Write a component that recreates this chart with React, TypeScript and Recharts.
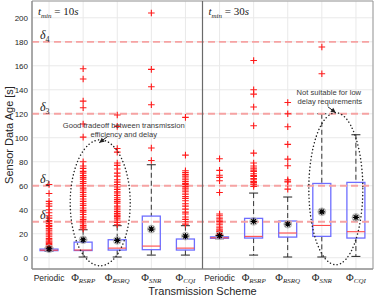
import React from 'react';
import {
  ComposedChart,
  XAxis,
  YAxis,
  CartesianGrid,
  Bar,
  Scatter,
  ReferenceLine,
  ReferenceDot,
  ReferenceArea,
  Label,
} from 'recharts';

// ---------- data ----------
const categories = ['Periodic', 'RSRP', 'RSRQ', 'SNR', 'CQI', 'Periodic', 'RSRP', 'RSRQ', 'SNR', 'CQI'];
const tickMain = ['Periodic', 'Φ', 'Φ', 'Φ', 'Φ', 'Periodic', 'Φ', 'Φ', 'Φ', 'Φ'];
const tickSub = ['', 'RSRP', 'RSRQ', 'SNR', 'CQI', '', 'RSRP', 'RSRQ', 'SNR', 'CQI'];
const yTicks = [0, 20, 40, 60, 80, 100, 120, 140, 160, 180, 200];

const whiskerLow = [5.5, 0.6, 0.6, 2.2, 2.2, 15.8, 2.2, 0.6, 0.6, 1.1];
const q1 = [5.9, 6.0, 6.4, 6.7, 6.4, 16.2, 16.4, 17.2, 17.8, 16.4];
const median = [6.3, 6.4, 8.0, 9.7, 8.0, 16.6, 17.8, 20.6, 26.9, 21.7];
const q3 = [7.2, 13.0, 15.0, 34.7, 15.6, 17.4, 32.8, 30.6, 61.9, 62.8];
const whiskerHigh = [8.0, 23.3, 26.7, 77.5, 26.7, 18.5, 53.9, 50.6, 120, 102.5];
const means = [7.5, 15, 14.4, 23.9, 18, 18.4, 30.3, 28, 38.3, 33.6];

const outlierP10 = [61, 53.5, 47, 45, 43, 40, 37.5, 35, 33, 31, 30, 28.5, 27, 26, 24.5, 23, 21.5, 20, 19, 17.5, 16, 15, 14, 13, 12, 11, 10, 9];
const outlierRSRP10 = [157.5, 149, 130.5, 125, 111.5, 100.5, 80, 76.5, 74.5, 72, 70.5, 68.5, 67, 65.5, 63.5, 62, 60, 58, 56.5, 54.5, 52.5, 51, 49, 47, 45, 43.5, 41.5, 39.5, 38, 36, 34, 32, 30.5, 29, 27, 25.5, 24];
const outlierRSRQ10 = [119, 109.5, 91, 88, 79, 77, 74, 70.5, 68, 65, 63, 61, 59, 57, 55, 54, 52, 50, 48.5, 47, 45.5, 43, 41.5, 40, 38.5, 37, 35.5, 34.5, 33, 31.5, 29.5, 27.5];
const outlierSNR10 = [204, 157, 142.5, 127.5, 91.5, 81];
const outlierCQI10 = [117, 85.5, 72.5, 71, 69.5, 68, 66.5, 65, 63.5, 62, 61, 59.5, 58, 56.5, 55, 53, 51, 49.5, 47.5, 45, 43, 40.5, 38, 36.5, 34, 32, 30, 28];
const outlierP30 = [82.5, 72.8, 68.8, 67, 64.2, 54.4, 36.5, 35, 33, 31.5, 30.3, 29, 27.5, 25.5, 24, 23, 21.8, 20.5, 19.3];
const outlierRSRP30 = [164.4, 140, 136.4, 125.6, 110, 87.2, 78.9, 76.5, 74.7, 73, 71.9, 70, 68.5, 67.8, 66, 65, 63.5, 62.8, 61.5, 60.8, 59.4];
const outlierRSRQ30 = [129.4, 120, 109.2, 94.5, 82.2, 76.7, 65, 63.8, 63.1, 57.2];
const outlierSNR30 = [175.6, 153.3];
const outlierCQI30: number[] = [];

const outliers = [
  outlierP10, outlierRSRP10, outlierRSRQ10, outlierSNR10, outlierCQI10,
  outlierP30, outlierRSRP30, outlierRSRQ30, outlierSNR30, outlierCQI30,
];

const deltaLevels = [30, 60, 120, 180];
const deltaNames = ['1', '2', '3', '4'];
const panelTimes = ['10', '30'];
const panelStart = [-0.5, 4.5];

// ---------- derived tables ----------
const boxData = categories.map((c, i) => ({
  x: i,
  name: c,
  range: [whiskerLow[i], whiskerHigh[i]],
  lo: whiskerLow[i],
  q1: q1[i],
  med: median[i],
  q3: q3[i],
  hi: whiskerHigh[i],
}));
const outlierData = outliers.flatMap((arr, i) => arr.map((v) => ({ x: i, y: v })));
const meanData = means.map((v, i) => ({ x: i, y: v }));

const SANS = 'Liberation Sans, Arial, Helvetica, sans-serif';
const SERIF = 'Liberation Serif, Times New Roman, serif';

// ---------- shapes ----------
const BoxShape = (props: any) => {
  const { x, y, width, height } = props;
  const d = props.payload ?? props;
  const top = Math.min(y, y + height);
  const bot = Math.max(y, y + height);
  const px = (v: number) => bot - ((v - d.lo) / (d.hi - d.lo)) * (bot - top);
  const cx = x + width / 2;
  const cap = 4.5;
  return (
    <g>
      <line x1={cx} x2={cx} y1={px(d.hi)} y2={px(d.q3)} stroke="#333" strokeWidth={1} strokeDasharray="5 3" />
      <line x1={cx} x2={cx} y1={px(d.q1)} y2={px(d.lo)} stroke="#333" strokeWidth={1} strokeDasharray="5 3" />
      <line x1={cx - cap} x2={cx + cap} y1={px(d.hi)} y2={px(d.hi)} stroke="#222" strokeWidth={1} />
      <line x1={cx - cap} x2={cx + cap} y1={px(d.lo)} y2={px(d.lo)} stroke="#222" strokeWidth={1} />
      <rect x={x} y={px(d.q3)} width={width} height={Math.max(px(d.q1) - px(d.q3), 0.5)} fill="none" stroke="#6e6eff" strokeWidth={1.3} />
      <line x1={x} x2={x + width} y1={px(d.med)} y2={px(d.med)} stroke="#ff4a4a" strokeWidth={1.1} />
    </g>
  );
};

const PlusShape = (p: any) => (
  <path d={`M${p.cx - 3.3},${p.cy}h6.6M${p.cx},${p.cy - 3.3}v6.6`} stroke="#ff1a1a" strokeWidth={1.1} fill="none" />
);

const MeanShape = (p: any) => {
  const r = 3.2;
  const k = r * 0.707;
  return (
    <g>
      <circle cx={p.cx} cy={p.cy} r={3.9} fill="none" stroke="#b0b0b0" strokeWidth={1} />
      <path
        d={`M${p.cx - r},${p.cy}h${2 * r}M${p.cx},${p.cy - r}v${2 * r}M${p.cx - k},${p.cy - k}l${2 * k},${2 * k}M${p.cx - k},${p.cy + k}l${2 * k},${-2 * k}`}
        stroke="#000"
        strokeWidth={1.2}
      />
    </g>
  );
};

const XTick = (props: any) => {
  const { x, y, payload } = props;
  const i = payload.value as number;
  if (!tickSub[i]) {
    return (
      <text x={x} y={y + 12} textAnchor="middle" fontSize={8.5} fontFamily={SANS} fill="#262626">
        {tickMain[i]}
      </text>
    );
  }
  return (
    <text x={x} y={y + 12} textAnchor="middle" fill="#262626" fontFamily={SERIF}>
      <tspan fontSize={10.5}>{tickMain[i]}</tspan>
      <tspan fontSize={7} fontStyle="italic" dy={2}>{tickSub[i]}</tspan>
    </text>
  );
};

const YTitle = (props: any) => {
  const vb = props.viewBox || { x: 0, y: 1, width: 32, height: 268 };
  const cx = vb.x + 13;
  const cy = vb.y + vb.height / 2;
  return (
    <text x={cx} y={cy} transform={`rotate(-90, ${cx}, ${cy})`} textAnchor="middle" fontSize={11} fontFamily={SANS} fill="#262626">
      Sensor Data Age [s]
    </text>
  );
};

const DeltaLabel = (name: string) => (p: any) => (
  <text x={p.cx + 8} y={p.cy - 3} fontFamily={SERIF} fill="#1a1a1a">
    <tspan fontSize={12} fontStyle="italic">δ</tspan>
    <tspan fontSize={8} dy={3}>{name}</tspan>
  </text>
);

const TimeLabel = (t: string) => (p: any) => (
  <text x={p.cx + 6} y={p.cy} fontFamily={SERIF} fill="#1a1a1a" fontSize={11}>
    <tspan fontStyle="italic">t</tspan>
    <tspan fontStyle="italic" fontSize={7} dy={2.5}>min</tspan>
    <tspan dy={-2.5}>{` = ${t}`}</tspan>
    <tspan fontStyle="italic">s</tspan>
  </text>
);

const arrowHead = (x1: number, y1: number, x2: number, y2: number) => {
  const ang = Math.atan2(y2 - y1, x2 - x1);
  const L = 5;
  const w = 2.4;
  const bx = x2 - L * Math.cos(ang);
  const by = y2 - L * Math.sin(ang);
  const nx = -Math.sin(ang) * w;
  const ny = Math.cos(ang) * w;
  return `M${x2},${y2}L${bx + nx},${by + ny}L${bx - nx},${by - ny}Z`;
};

const LeftEllipse = (p: any) => {
  const { cx, cy } = p;
  const ax1 = cx + 7, ay1 = cy - 66, ax2 = cx - 1, ay2 = cy - 60;
  return (
    <g>
      <ellipse cx={cx} cy={cy} rx={30} ry={63} fill="none" stroke="#222" strokeWidth={1.5} strokeDasharray="0.1 3.4" strokeLinecap="round" />
      <line x1={ax1} y1={ay1} x2={ax2} y2={ay2} stroke="#222" strokeWidth={1} />
      <path d={arrowHead(ax1, ay1, ax2, ay2)} fill="#222" />
      <text x={cx + 23.5} y={cy - 75} textAnchor="middle" fontSize={7.6} fontFamily={SANS} fill="#3a3a3a">Good tradeoff between transmission</text>
      <text x={cx + 23.5} y={cy - 66} textAnchor="middle" fontSize={7.6} fontFamily={SANS} fill="#3a3a3a">efficiency and delay</text>
    </g>
  );
};

const RightEllipse = (p: any) => {
  const { cx, cy } = p;
  const ax1 = cx - 8, ay1 = cy - 82, ax2 = cx, ay2 = cy - 76;
  return (
    <g>
      <ellipse cx={cx} cy={cy} rx={27} ry={76} fill="none" stroke="#222" strokeWidth={1.5} strokeDasharray="0.1 3.4" strokeLinecap="round" />
      <line x1={ax1} y1={ay1} x2={ax2} y2={ay2} stroke="#222" strokeWidth={1} />
      <path d={arrowHead(ax1, ay1, ax2, ay2)} fill="#222" />
      <text x={cx - 7} y={cy - 94} textAnchor="middle" fontSize={7.6} fontFamily={SANS} fill="#3a3a3a">Not suitable for low</text>
      <text x={cx - 6} y={cy - 85} textAnchor="middle" fontSize={7.6} fontFamily={SANS} fill="#3a3a3a">delay requirements</text>
    </g>
  );
};

const Y_DOMAIN: [number, number] = [-9.4, 214];

export default function App() {
  return (
    <div style={{ position: 'absolute', left: 0, top: 0, background: '#fff' }}>
      <ComposedChart width={374} height={299} data={boxData} margin={{ top: 1, right: 1, bottom: 0, left: 0 }}>
        <CartesianGrid stroke="#e9e9e9" strokeWidth={1} />
        <XAxis
          type="number"
          dataKey="x"
          domain={[-0.5, 9.5]}
          ticks={[0, 1, 2, 3, 4, 5, 6, 7, 8, 9]}
          interval={0}
          tick={<XTick />}
          tickLine={false}
          tickSize={0}
          tickMargin={0}
          height={30}
          axisLine={{ stroke: '#8a8a8a' }}
          allowDataOverflow
        >
          <Label value="Transmission Scheme" position="insideBottom" offset={4} fontSize={11} fontFamily={SANS} fill="#262626" />
        </XAxis>
        <YAxis
          type="number"
          domain={Y_DOMAIN}
          ticks={yTicks}
          interval={0}
          width={32}
          tickLine={false}
          tickSize={0}
          tickMargin={4}
          tick={{ fontSize: 8, fontFamily: SANS, fill: '#262626' }}
          axisLine={{ stroke: '#8a8a8a' }}
          allowDataOverflow
        >
          <Label content={<YTitle />} />
        </YAxis>
        <ReferenceArea x1={-0.5} x2={9.5} y1={Y_DOMAIN[0]} y2={Y_DOMAIN[1]} fill="none" stroke="#9a9a9a" strokeWidth={1} ifOverflow="visible" />
        {deltaLevels.map((lv) => (
          <ReferenceLine key={`d${lv}`} y={lv} stroke="#f6a3a3" strokeWidth={1.8} strokeDasharray="7 4" />
        ))}
        <ReferenceLine x={4.5} stroke="#6a6a6a" strokeWidth={1.2} />
        <Bar dataKey="range" barSize={18} shape={<BoxShape />} isAnimationActive={false} />
        <Scatter data={outlierData} dataKey="y" shape={<PlusShape />} isAnimationActive={false} />
        <Scatter data={meanData} dataKey="y" shape={<MeanShape />} isAnimationActive={false} />
        {deltaLevels.map((lv, i) => (
          <ReferenceDot key={`dl${lv}`} x={-0.5} y={lv} r={0} shape={DeltaLabel(deltaNames[i])} ifOverflow="visible" />
        ))}
        {panelTimes.map((t, i) => (
          <ReferenceDot key={`t${t}`} x={panelStart[i]} y={202} r={0} shape={TimeLabel(t)} ifOverflow="visible" />
        ))}
        <ReferenceDot x={1.5} y={45.8} r={0} shape={LeftEllipse} ifOverflow="visible" />
        <ReferenceDot x={8.41} y={57.5} r={0} shape={RightEllipse} ifOverflow="visible" />
      </ComposedChart>
    </div>
  );
}
